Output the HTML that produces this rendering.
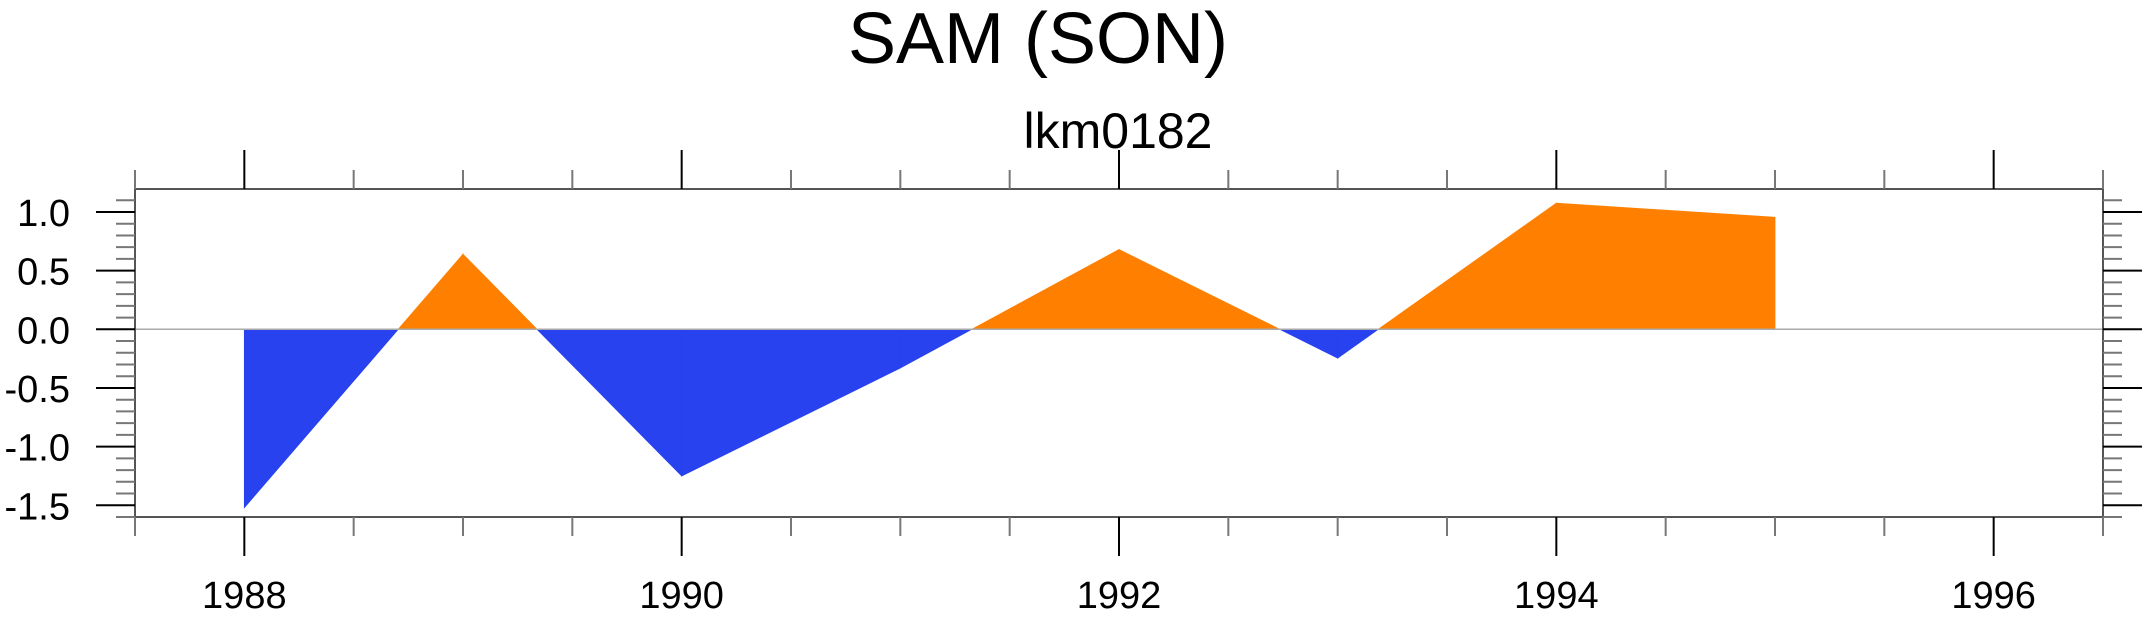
<!DOCTYPE html>
<html><head><meta charset="utf-8"><style>
html,body{margin:0;padding:0;background:#fff;}
svg{display:block;font-family:"Liberation Sans",sans-serif;}
</style></head><body>
<svg id="chart" width="2151" height="619" viewBox="0 0 2151 619" xmlns="http://www.w3.org/2000/svg">
<text x="1038" y="63" font-size="72" text-anchor="middle">SAM (SON)</text>
<text x="1118" y="148" font-size="50" text-anchor="middle">lkm0182</text>
<g id="plot"></g>
</svg>
<script>
const years = [1988, 1989, 1990, 1991, 1992, 1993, 1994, 1995];
const samValues = [-1.52, 0.64, -1.25, -0.33, 0.68, -0.245, 1.075, 0.955];
const yTicks = [1.0, 0.5, 0.0, -0.5, -1.0, -1.5];
const yTickLabels = ["1.0", "0.5", "0.0", "-0.5", "-1.0", "-1.5"];
const xTicks = [1988, 1990, 1992, 1994, 1996];
const xTickLabels = ["1988", "1990", "1992", "1994", "1996"];

const L=135,R=2103,T=189,B=517;
const X0=1987.5,X1=1996.5,Y0=-1.6,Y1=1.196;
const ns="http://www.w3.org/2000/svg";
const g=document.getElementById('plot');
function sx(v){return L+(v-X0)/(X1-X0)*(R-L);}
function sy(v){return B-(v-Y0)/(Y1-Y0)*(B-T);}
function mk(tag,attrs){const e=document.createElementNS(ns,tag);for(const k in attrs)e.setAttribute(k,attrs[k]);g.appendChild(e);return e;}

const y0=sy(0);
for(let i=0;i<years.length-1;i++){
  const xa=years[i],xb=years[i+1],va=samValues[i],vb=samValues[i+1];
  let segs=[];
  if(va*vb<0){const xc=xa+(xb-xa)*va/(va-vb);segs.push([xa,va,xc,0]);segs.push([xc,0,xb,vb]);}
  else segs.push([xa,va,xb,vb]);
  for(const s of segs){
    const pos=(s[1]+s[3])>0;
    const p=mk('polygon',{points:`${sx(s[0])},${y0} ${sx(s[0])},${sy(s[1])} ${sx(s[2])},${sy(s[3])} ${sx(s[2])},${y0}`,fill:pos?'#ff8000':'#2742ee',stroke:pos?'#ff8000':'#2742ee','stroke-width':'0.8'});
    
    
  }
}
const zl=mk('line',{x1:L,x2:R,y1:y0,y2:y0,stroke:'#aaa','stroke-width':1.5});


const fr=mk('rect',{x:L,y:T,width:R-L,height:B-T,fill:'none',stroke:'#555','stroke-width':2});


for(let k=-16;k<=11;k++){
  const v=k/10,y=sy(v);
  const major=Math.abs(k%5)===0;
  const len=major?39:19;
  const a=mk('line',{x1:L-len,x2:L,y1:y,y2:y,stroke:major?'#000':'#777','stroke-width':2});
  
  
  const b=mk('line',{x1:R,x2:R+len,y1:y,y2:y,stroke:major?'#000':'#777','stroke-width':2});
  
  
}
yTicks.forEach((v,i)=>{
  const t=mk('text',{x:70,y:sy(v)+14,'font-size':38,'text-anchor':'end'});
  t.textContent=yTickLabels[i];
  
  
});
for(let k=0;k<=18;k++){
  const v=X0+k*0.5,x=sx(v);
  const major=Number.isInteger(v)&&v%2===0;
  const len=major?39:19;
  const a=mk('line',{x1:x,x2:x,y1:T-len,y2:T,stroke:major?'#000':'#777','stroke-width':2});
  
  
  const b=mk('line',{x1:x,x2:x,y1:B,y2:B+len,stroke:major?'#000':'#777','stroke-width':2});
  
  
}
xTicks.forEach((v,i)=>{
  const t=mk('text',{x:sx(v),y:608,'font-size':38,'text-anchor':'middle'});
  t.textContent=xTickLabels[i];
  
  
});
</script>
</body></html>
